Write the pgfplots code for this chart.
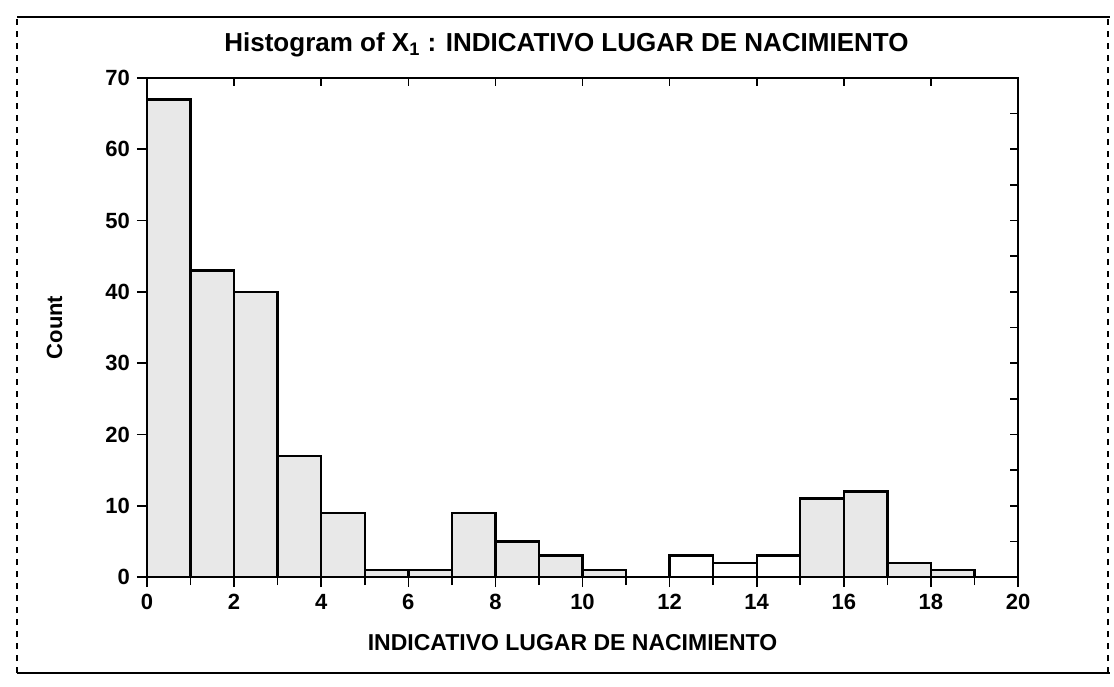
\documentclass[border=0pt]{standalone}
\usepackage{pgfplots}
\pgfplotsset{compat=1.18}
\usepackage{fontspec}
\setmainfont{Liberation Sans}
\begin{document}
\begin{tikzpicture}
\useasboundingbox (0,0) rectangle (557pt,343pt);
\draw[line width=1.3pt] (8.5pt,334.5pt) -- (555pt,334.5pt);
\draw[line width=1.3pt] (8.5pt,6.5pt) -- (555pt,6.5pt);
\draw[dashed, line width=0.8pt] (8.5pt,6.5pt) -- (8.5pt,334.5pt);
\draw[dashed, line width=0.8pt] (554pt,6.5pt) -- (554pt,334.5pt);
\begin{axis}[
  at={(73.5pt,54.5pt)}, anchor=south west, scale only axis,
  width=435.5pt, height=249.5pt,
  xmin=0, xmax=20, ymin=0, ymax=70,
  xtick={0,2,...,20}, minor xtick={1,3,...,19},
  ytick={0,10,...,70},
  xtick pos=bottom, ytick pos=left, tick align=outside,
  major tick length=5pt, minor tick length=4pt,
  every tick/.style={black, line width=0.8pt},
  axis line style={line width=1pt},
  ticklabel style={font=\bfseries\fontsize{11}{12}\selectfont},
  /pgf/number format/assume math mode=true,
  title={Histogram of X\textsubscript{1} : INDICATIVO LUGAR DE NACIMIENTO},
  title style={at={(axis description cs:0.5,1)}, anchor=center, yshift=10.5pt, xshift=-8pt, font=\bfseries\fontsize{13}{15}\selectfont},
  xlabel={INDICATIVO LUGAR DE NACIMIENTO},
  xlabel style={at={(axis description cs:0.5,0)}, anchor=center, yshift=-33pt, xshift=-5pt, font=\bfseries\fontsize{11.5}{13}\selectfont},
  ylabel={Count},
  ylabel style={at={(axis description cs:-0.106,0.5)}, anchor=center, font=\bfseries\fontsize{11}{12}\selectfont},
]
\addplot[ybar, bar width=1, bar shift=0pt, fill=gray!18, draw=black, line width=1.2pt] coordinates {
(0.5,67) (1.5,43) (2.5,40) (3.5,17) (4.5,9) (5.5,1) (6.5,1) (7.5,9) (8.5,5) (9.5,3) (10.5,1)
(15.5,11) (16.5,12) (17.5,2) (18.5,1)
};
\addplot[ybar, bar width=1, bar shift=0pt, fill=white, draw=black, line width=1.2pt] coordinates {
(12.5,3) (13.5,2) (14.5,3)
};
\end{axis}
\begin{axis}[
  at={(73.5pt,54.5pt)}, anchor=south west, scale only axis,
  width=435.5pt, height=249.5pt,
  xmin=0, xmax=20, ymin=0, ymax=70,
  xtick={0,2,...,20}, ytick={0,5,...,70},
  xtick pos=top, ytick pos=right, tick align=inside,
  xticklabels={}, yticklabels={},
  major tick length=4pt,
  every tick/.style={black, line width=0.8pt},
  axis line style={line width=1pt},
]
\end{axis}
\end{tikzpicture}
\end{document}
